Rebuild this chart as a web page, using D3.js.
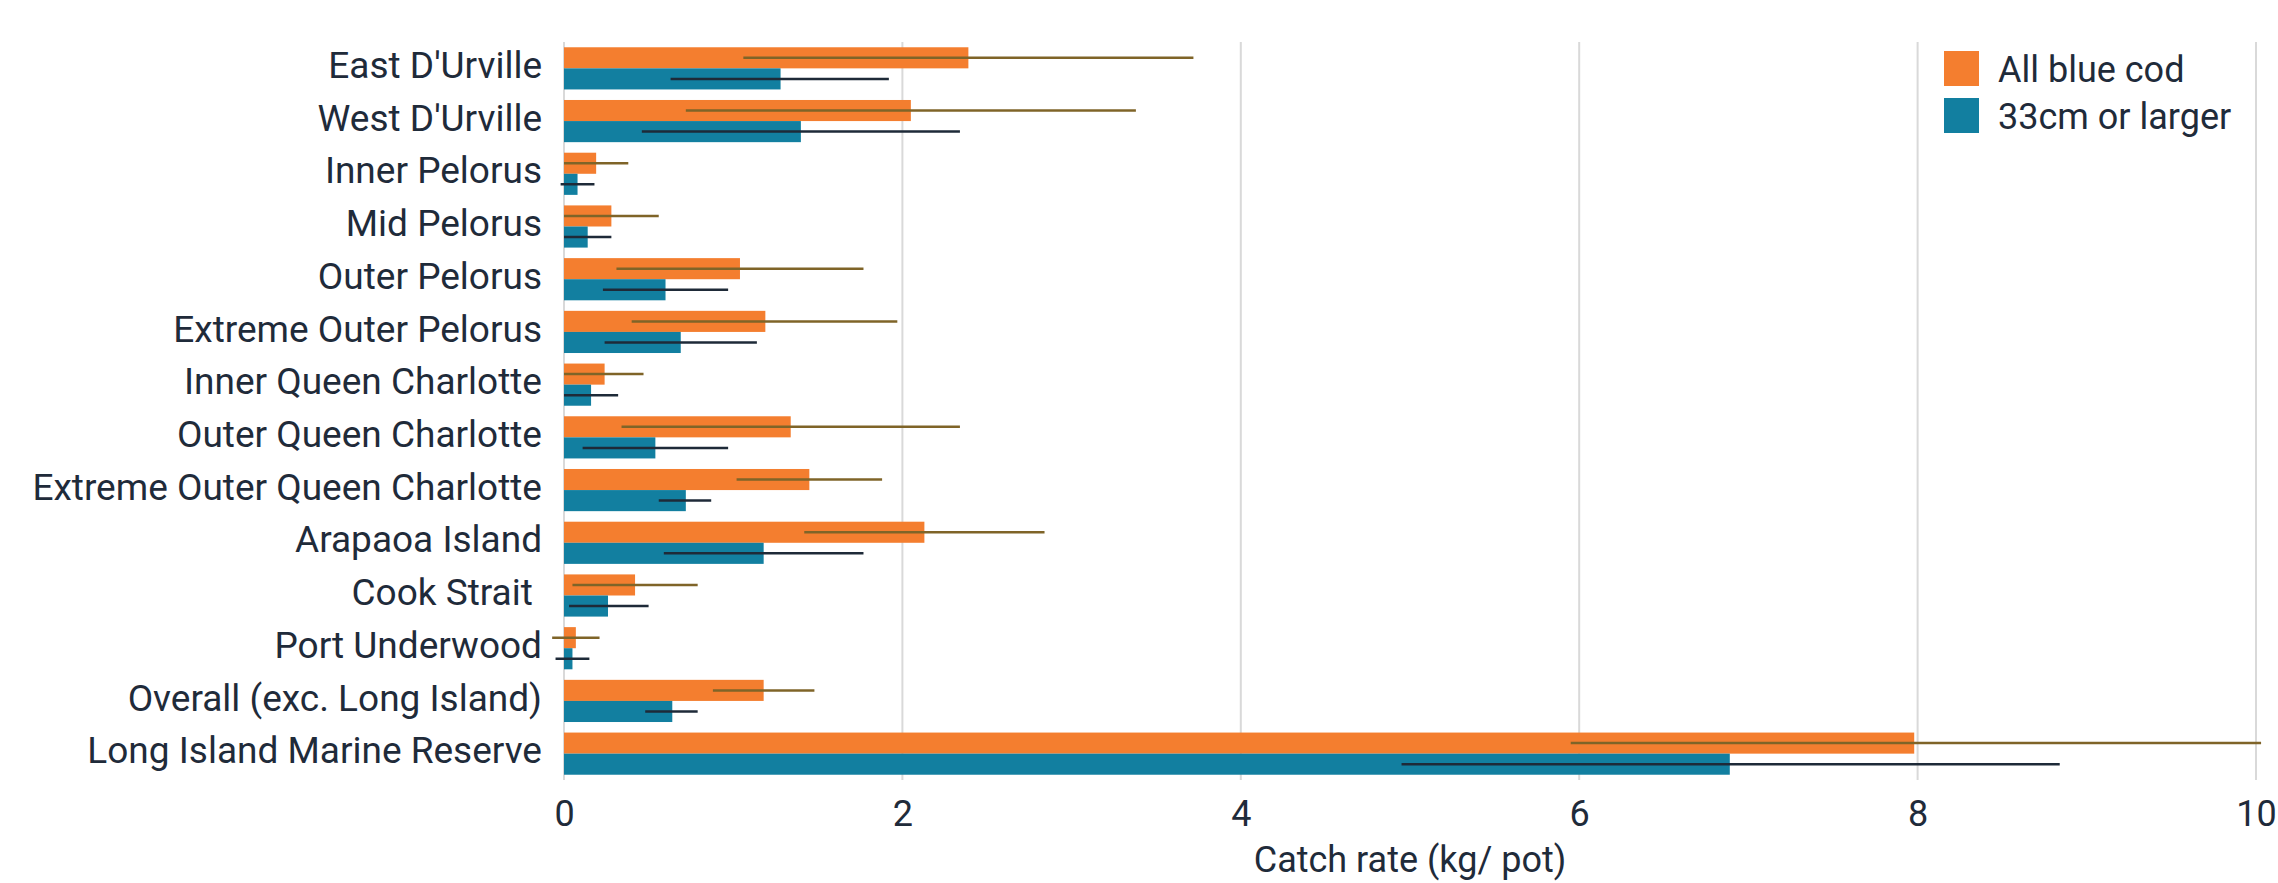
<!DOCTYPE html>
<html>
<head>
<meta charset="utf-8">
<script src="https://cdn.jsdelivr.net/npm/d3@7"></script>
<style>
  body { margin: 0; background: #fff; }
  svg text { font-family: Roboto, "Liberation Sans", sans-serif; fill: #1f2b3a; }
</style>
</head>
<body>
<div id="chart"></div>
<script>
const categories = ["East D'Urville", "West D'Urville", "Inner Pelorus", "Mid Pelorus", "Outer Pelorus",
  "Extreme Outer Pelorus", "Inner Queen Charlotte", "Outer Queen Charlotte", "Extreme Outer Queen Charlotte",
  "Arapaoa Island", "Cook Strait ", "Port Underwood", "Overall (exc. Long Island)", "Long Island Marine Reserve"];

// All blue cod: mean and error bar ends
const allCod   = [2.39, 2.05, 0.19, 0.28, 1.04, 1.19, 0.24, 1.34, 1.45, 2.13, 0.42, 0.07, 1.18, 7.98];
const allCodLo = [1.06, 0.72, 0.00, 0.00, 0.31, 0.40, 0.00, 0.34, 1.02, 1.42, 0.05, -0.07, 0.88, 5.95];
const allCodHi = [3.72, 3.38, 0.38, 0.56, 1.77, 1.97, 0.47, 2.34, 1.88, 2.84, 0.79, 0.21, 1.48, 10.03];

// 33cm or larger
const large   = [1.28, 1.40, 0.08, 0.14, 0.60, 0.69, 0.16, 0.54, 0.72, 1.18, 0.26, 0.05, 0.64, 6.89];
const largeLo = [0.63, 0.46, -0.02, 0.00, 0.23, 0.24, 0.00, 0.11, 0.56, 0.59, 0.03, -0.05, 0.48, 4.95];
const largeHi = [1.92, 2.34, 0.18, 0.28, 0.97, 1.14, 0.32, 0.97, 0.87, 1.77, 0.50, 0.15, 0.79, 8.84];

const xTicks = [0, 2, 4, 6, 8, 10];
const seriesKeys = ["All blue cod", "33cm or larger"];

const W = 2278, H = 883;
const margin = { top: 42, right: 22, bottom: 103, left: 564 };
const width = W - margin.left - margin.right;
const height = H - margin.top - margin.bottom;

const color = d3.scaleOrdinal().domain(seriesKeys).range(["#f47e2f", "#127fa0"]);
const errColor = d3.scaleOrdinal().domain(seriesKeys).range(["#7f6428", "#1e2a38"]);

const data = categories.map((c, i) => ({
  cat: c,
  vals: [
    { key: seriesKeys[0], v: allCod[i], lo: allCodLo[i], hi: allCodHi[i] },
    { key: seriesKeys[1], v: large[i], lo: largeLo[i], hi: largeHi[i] }
  ]
}));

const svg = d3.select("#chart").append("svg")
  .attr("width", W)
  .attr("height", H)
  .append("g")
  .attr("transform", `translate(${margin.left},${margin.top})`);

const x = d3.scaleLinear().domain([0, 10]).range([0, width]);

const y = d3.scaleBand()
  .domain(categories)
  .range([0, height])
  .paddingInner(0.2)
  .paddingOuter(0.1);

const ySub = d3.scaleBand().domain(seriesKeys).range([0, y.bandwidth()]);

// gridlines
svg.append("g")
  .selectAll("line")
  .data(xTicks)
  .join("line")
  .attr("x1", d => x(d)).attr("x2", d => x(d))
  .attr("y1", 0).attr("y2", height)
  .attr("stroke", "#d9d9d9")
  .attr("stroke-width", 2);

// x axis labels
const xAxis = svg.append("g")
  .attr("transform", `translate(0,${height})`)
  .call(d3.axisBottom(x).tickValues(xTicks).tickSize(0).tickPadding(20));
xAxis.select(".domain").remove();
xAxis.selectAll("text")
  .style("font-size", "36px")
  .attr("fill", "#1f2b3a");

// y axis labels
const yAxis = svg.append("g")
  .call(d3.axisLeft(y).tickSize(0).tickPadding(22));
yAxis.select(".domain").remove();
yAxis.selectAll("text")
  .style("font-size", "37px")
  .style("white-space", "pre")
  .attr("fill", "#1f2b3a")
  .attr("dy", "0.26em");

// bars
const groups = svg.selectAll("g.group")
  .data(data)
  .join("g")
  .attr("class", "group")
  .attr("transform", d => `translate(0,${y(d.cat)})`);

groups.selectAll("rect")
  .data(d => d.vals)
  .join("rect")
  .attr("x", x(0))
  .attr("y", d => ySub(d.key))
  .attr("width", d => x(d.v) - x(0))
  .attr("height", ySub.bandwidth())
  .attr("fill", d => color(d.key));

// error bars
groups.selectAll("line.err")
  .data(d => d.vals)
  .join("line")
  .attr("class", "err")
  .attr("x1", d => x(d.lo))
  .attr("x2", d => x(d.hi))
  .attr("y1", d => ySub(d.key) + ySub.bandwidth() / 2)
  .attr("y2", d => ySub(d.key) + ySub.bandwidth() / 2)
  .attr("stroke", d => errColor(d.key))
  .attr("stroke-width", 2.5);

// axis title (kept just inside the bottom edge)
svg.append("text")
  .attr("x", width / 2)
  .attr("y", height + 92)
  .attr("text-anchor", "middle")
  .style("font-size", "36px")
  .text("Catch rate (kg/ pot)");

// legend
const legend = svg.append("g")
  .attr("transform", `translate(${1944 - margin.left},${51 - margin.top})`);

seriesKeys.forEach((key, i) => {
  const item = legend.append("g").attr("transform", `translate(0,${i * 47})`);
  item.append("rect")
    .attr("width", 35).attr("height", 35)
    .attr("fill", color(key));
  item.append("text")
    .attr("x", 54)
    .attr("y", 31)
    .style("font-size", "36px")
    .text(key);
});
</script>
</body>
</html>
